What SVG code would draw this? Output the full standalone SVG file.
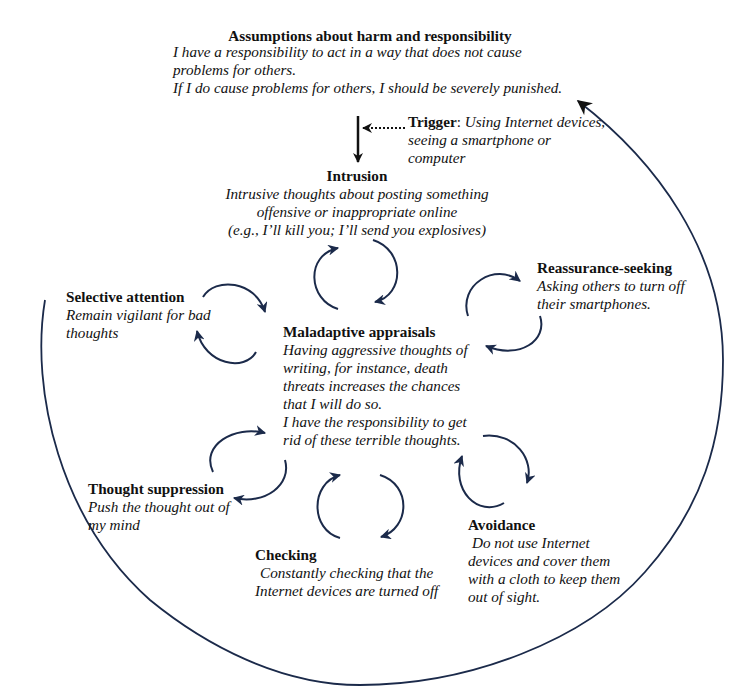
<svg xmlns="http://www.w3.org/2000/svg" width="750" height="696" viewBox="0 0 750 696">
<style>
text{font-family:"Liberation Serif","Times New Roman",serif;font-size:15.2px;fill:#111}
.b{font-weight:bold}
.i{font-style:italic}
.c{text-anchor:middle}
.arc{fill:none;stroke:#1b2a4a;stroke-width:2;marker-end:url(#ah)}
</style>
<defs>
<marker id="ah" viewBox="0 0 10 10" refX="9" refY="5" markerWidth="11" markerHeight="11" markerUnits="userSpaceOnUse" orient="auto"><path d="M0,0 L10,5 L0,10 L3,5 z" fill="#1b2a4a"/></marker>
<marker id="ahBig" viewBox="0 0 10 10" refX="9" refY="5" markerWidth="15" markerHeight="15" markerUnits="userSpaceOnUse" orient="auto"><path d="M0,0 L10,5 L0,10 L3,5 z" fill="#111"/></marker>
<marker id="ahK" viewBox="0 0 10 10" refX="9" refY="5" markerWidth="10" markerHeight="10" markerUnits="userSpaceOnUse" orient="auto"><path d="M0,0 L10,5 L0,10 L3,5 z" fill="#111"/></marker>
</defs>
<rect width="750" height="696" fill="#fff"/>
<g id="connectors">
<path d="M45,300 C30,390 60,520 150,600 C205,645 280,685 360,685 C470,685 585,640 645,572 C702,508 723,440 723,360 C723,250 655,160 578,101" fill="none" stroke="#1b2a4a" stroke-width="1.8" marker-end="url(#ahBig)"/>
<line x1="358" y1="116" x2="358" y2="162" stroke="#111" stroke-width="2.5" marker-end="url(#ahK)"/>
<line x1="405" y1="128" x2="363" y2="128" stroke="#111" stroke-width="2" stroke-dasharray="2,2" marker-end="url(#ahK)"/>
<path class="arc" d="M338,309 C308,300 305,255 338,248"/>
<path class="arc" d="M373,240 C405,250 405,295 375,302"/>
<path class="arc" d="M468,316 C458,285 495,262 520,281"/>
<path class="arc" d="M540,316 C548,340 520,360 486,346"/>
<path class="arc" d="M203,297 C215,277 255,280 265,312"/>
<path class="arc" d="M256,352 C245,372 205,365 197,331"/>
<path class="arc" d="M213,472 C200,445 235,425 265,433"/>
<path class="arc" d="M285,460 C292,485 265,505 234,498"/>
<path class="arc" d="M340,538 C310,530 310,483 340,475"/>
<path class="arc" d="M380,475 C412,485 410,528 381,537"/>
<path class="arc" d="M483,436 C515,432 535,460 527,483"/>
<path class="arc" d="M504,503 C478,518 450,490 462,456"/>
</g>
<g id="assumptions">
<text x="370" y="41" class="b c">Assumptions about harm and responsibility</text>
<text x="173" y="57" class="i">I have a responsibility to act in a way that does not cause</text>
<text x="173" y="75" class="i">problems for others.</text>
<text x="173" y="93" class="i">If I do cause problems for others, I should be severely punished.</text>
</g>
<g id="trigger">
<text x="408" y="127"><tspan class="b">Trigger</tspan><tspan>: </tspan><tspan class="i">Using Internet devices,</tspan></text>
<text x="408" y="145" class="i">seeing a smartphone or</text>
<text x="408" y="163" class="i">computer</text>
</g>
<g id="intrusion">
<text x="357" y="181" class="b c">Intrusion</text>
<text x="357" y="199" class="i c">Intrusive thoughts about posting something</text>
<text x="357" y="217" class="i c">offensive or inappropriate online</text>
<text x="357" y="235" class="i c">(e.g., I’ll kill you; I’ll send you explosives)</text>
</g>
<g id="reassurance">
<text x="537" y="273" class="b">Reassurance-seeking</text>
<text x="537" y="291" class="i">Asking others to turn off</text>
<text x="537" y="309" class="i">their smartphones.</text>
</g>
<g id="selective-attention">
<text x="66" y="302" class="b">Selective attention</text>
<text x="66" y="320" class="i">Remain vigilant for bad</text>
<text x="66" y="338" class="i">thoughts</text>
</g>
<g id="maladaptive">
<text x="283" y="337" class="b">Maladaptive appraisals</text>
<text x="283" y="355" class="i">Having aggressive thoughts of</text>
<text x="283" y="373" class="i">writing, for instance, death</text>
<text x="283" y="391" class="i">threats increases the chances</text>
<text x="283" y="409" class="i">that I will do so.</text>
<text x="283" y="427" class="i">I have the responsibility to get</text>
<text x="283" y="445" class="i">rid of these terrible thoughts.</text>
</g>
<g id="thought-suppression">
<text x="88" y="494" class="b">Thought suppression</text>
<text x="88" y="512" class="i">Push the thought out of</text>
<text x="88" y="530" class="i">my mind</text>
</g>
<g id="checking">
<text x="255" y="560" class="b">Checking</text>
<text x="260" y="578" class="i">Constantly checking that the</text>
<text x="255" y="596" class="i">Internet devices are turned off</text>
</g>
<g id="avoidance">
<text x="468" y="530" class="b">Avoidance</text>
<text x="472" y="548" class="i">Do not use Internet</text>
<text x="468" y="566" class="i">devices and cover them</text>
<text x="468" y="584" class="i">with a cloth to keep them</text>
<text x="468" y="602" class="i">out of sight.</text>
</g>
</svg>
